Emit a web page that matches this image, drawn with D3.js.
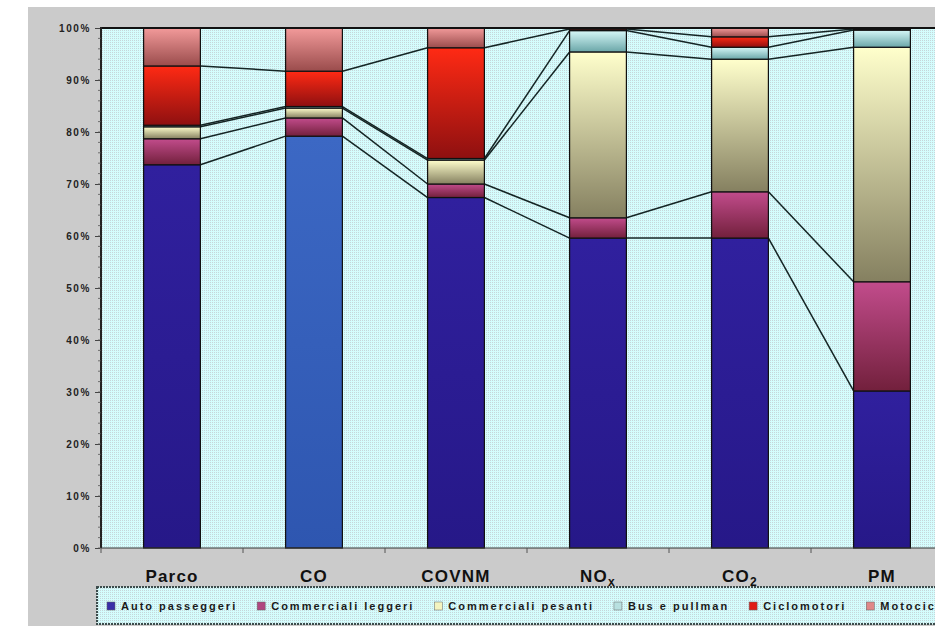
<!DOCTYPE html>
<html><head><meta charset="utf-8">
<script src="https://cdn.jsdelivr.net/npm/d3@7"></script>
<style>body{margin:0;background:#fff}svg{display:block;font-family:"Liberation Sans",Arial,sans-serif}</style>
</head><body>
<svg id="c" width="935" height="626"></svg>
<script>
// ---- data (percent shares) ----
const categories = ["Parco", "CO", "COVNM", "NOx", "CO2", "PM"];
const seriesNames = ["Auto passeggeri", "Commerciali leggeri", "Commerciali pesanti", "Bus e pullman", "Ciclomotori", "Motocicli"];
const autoPasseggeri     = [73.7, 79.2, 67.4, 59.6, 59.6, 30.2];
const commercialiLeggeri = [5.0, 3.5, 2.6, 3.9, 8.9, 21.0];
const commercialiPesanti = [2.3, 1.9, 4.6, 31.9, 25.5, 45.1];
const busPullman         = [0.3, 0.3, 0.3, 4.1, 2.3, 3.3];
const ciclomotori        = [11.4, 6.8, 21.3, 0.3, 2.0, 0.2];
const motocicli          = [7.3, 8.3, 3.8, 0.2, 1.7, 0.2];
const yTicks = [0, 10, 20, 30, 40, 50, 60, 70, 80, 90, 100];

const seriesValues = [autoPasseggeri, commercialiLeggeri, commercialiPesanti, busPullman, ciclomotori, motocicli];

// ---- styling ----
const gradStops = [
  ["#30209e", "#261888"],
  ["#c24c8c", "#72203c"],
  ["#ffffcc", "#858060"],
  ["#d6f8f8", "#6aa6a8"],
  ["#ff2a14", "#8e1010"],
  ["#f29a9a", "#9a4c4c"]
];
const legendColors = ["#3a2ea8", "#b04680", "#f4f4c0", "#b8e0e0", "#e01c14", "#e08888"];

const W = 935, H = 626;
const P = {left: 101, top: 28, right: 953, bottom: 548};

const svg = d3.select("#c");
const defs = svg.append("defs");

// background dither pattern
const pat = defs.append("pattern").attr("id", "dither").attr("width", 2).attr("height", 2).attr("patternUnits", "userSpaceOnUse");
pat.append("rect").attr("width", 2).attr("height", 2).attr("fill", "#d4fdfd");
pat.append("rect").attr("width", 1).attr("height", 1).attr("fill", "#c6d6da");

gradStops.forEach((s, i) => {
  const g = defs.append("linearGradient").attr("id", "g" + i).attr("x1", 0).attr("y1", 0).attr("x2", 0).attr("y2", 1);
  g.append("stop").attr("offset", "0%").attr("stop-color", s[0]);
  g.append("stop").attr("offset", "100%").attr("stop-color", s[1]);
});
{
  const g = defs.append("linearGradient").attr("id", "gHi").attr("x1", 0).attr("y1", 0).attr("x2", 0).attr("y2", 1);
  g.append("stop").attr("offset", "0%").attr("stop-color", "#3c68c4");
  g.append("stop").attr("offset", "100%").attr("stop-color", "#2e56b0");
}

// chart area background
svg.append("rect").attr("x", 28).attr("y", 7).attr("width", W - 28).attr("height", H - 7).attr("fill", "#cbcbcb");

// scales
const x = d3.scaleBand().domain(categories).range([P.left, P.right]).paddingInner(0.6).paddingOuter(0.3);
const y = d3.scaleLinear().domain([0, 100]).range([P.bottom, P.top]);

// plot area
svg.append("rect").attr("x", P.left).attr("y", P.top).attr("width", P.right - P.left).attr("height", P.bottom - P.top)
  .attr("fill", "url(#dither)");

// stack
const rows = categories.map((c, i) => {
  const r = {cat: c};
  seriesNames.forEach((s, k) => r[s] = seriesValues[k][i]);
  return r;
});
const stacked = d3.stack().keys(seriesNames)(rows);
const bw = x.bandwidth();

// series lines
const lineG = svg.append("g");
for (let k = 0; k < seriesNames.length - 1; k++) {
  for (let i = 0; i < categories.length - 1; i++) {
    lineG.append("line")
      .attr("x1", x(categories[i]) + bw).attr("y1", y(stacked[k][i][1]))
      .attr("x2", x(categories[i + 1])).attr("y2", y(stacked[k][i + 1][1]))
      .attr("stroke", "#142424").attr("stroke-width", 1.5);
  }
}

// bars
stacked.forEach((layer, k) => {
  svg.append("g").selectAll("rect").data(layer).join("rect")
    .attr("x", d => x(d.data.cat))
    .attr("y", d => y(d[1]))
    .attr("width", bw)
    .attr("height", d => Math.max(0, y(d[0]) - y(d[1])))
    .attr("fill", d => (k === 0 && d.data.cat === "CO") ? "url(#gHi)" : "url(#g" + k + ")")
    .attr("stroke", "#111")
    .attr("stroke-width", 1.2);
});

// plot border (top & left) and x axis line
svg.append("line").attr("x1", P.left).attr("x2", W).attr("y1", P.top).attr("y2", P.top).attr("stroke", "#111").attr("stroke-width", 2.2);
svg.append("line").attr("x1", P.left).attr("x2", P.left).attr("y1", P.top - 1).attr("y2", P.bottom).attr("stroke", "#222").attr("stroke-width", 2);
svg.append("line").attr("x1", P.left).attr("x2", W).attr("y1", P.bottom).attr("y2", P.bottom).attr("stroke", "#333").attr("stroke-width", 1.2);

// y axis
const yAxis = svg.append("g").attr("transform", `translate(${P.left - 1},0)`)
  .call(d3.axisLeft(y).tickValues(yTicks).tickFormat(d => d + "%").tickSize(5).tickPadding(4));
yAxis.select(".domain").remove();
yAxis.selectAll(".tick line").attr("stroke", "#444");
yAxis.selectAll("text").attr("font-size", 10).attr("font-weight", "bold").attr("fill", "#222").style("letter-spacing", "1.6px");

// minor y ticks
svg.append("g").selectAll("line").data(d3.range(0, 100, 2)).join("line")
  .attr("x1", P.left - 3).attr("x2", P.left).attr("y1", d => y(d)).attr("y2", d => y(d))
  .attr("stroke", "#555").attr("stroke-width", 0.8);

// x boundary ticks
const step = x.step();
svg.append("g").selectAll("line").data(d3.range(categories.length + 1)).join("line")
  .attr("x1", i => P.left + i * step).attr("x2", i => P.left + i * step)
  .attr("y1", P.bottom).attr("y2", P.bottom + 5)
  .attr("stroke", "#555").attr("stroke-width", 1);

// x labels with subscripts
const xl = svg.append("g").selectAll("text").data(categories).join("text")
  .attr("x", d => x(d) + bw / 2).attr("y", 582)
  .attr("text-anchor", "middle").attr("font-size", 17).attr("font-weight", "bold").attr("fill", "#111")
  .style("letter-spacing", "1.2px");
xl.each(function (d) {
  const m = d.match(/^(NO|CO)([x2])$/);
  const t = d3.select(this);
  if (m) {
    t.append("tspan").text(m[1]);
    t.append("tspan").text(m[2]).attr("font-size", 12).attr("dy", 4);
  } else t.text(d);
});

// legend
svg.append("rect").attr("x", 97).attr("y", 587).attr("width", 900).attr("height", 37)
  .attr("fill", "url(#dither)").attr("stroke", "#3c4c4c").attr("stroke-width", 2).attr("stroke-dasharray", "2,1");
let lx = 107;
seriesNames.forEach((s, k) => {
  svg.append("rect").attr("x", lx).attr("y", 602).attr("width", 8).attr("height", 8)
    .attr("fill", legendColors[k]).attr("stroke", "#666").attr("stroke-width", 0.5);
  const t = svg.append("text").attr("x", lx + 14).attr("y", 610).attr("font-size", 11).attr("font-weight", "bold")
    .attr("fill", "#1a1a1a").style("letter-spacing", "2px").text(s);
  lx += 14 + t.node().getComputedTextLength() + 20;
});
</script>
</body></html>
